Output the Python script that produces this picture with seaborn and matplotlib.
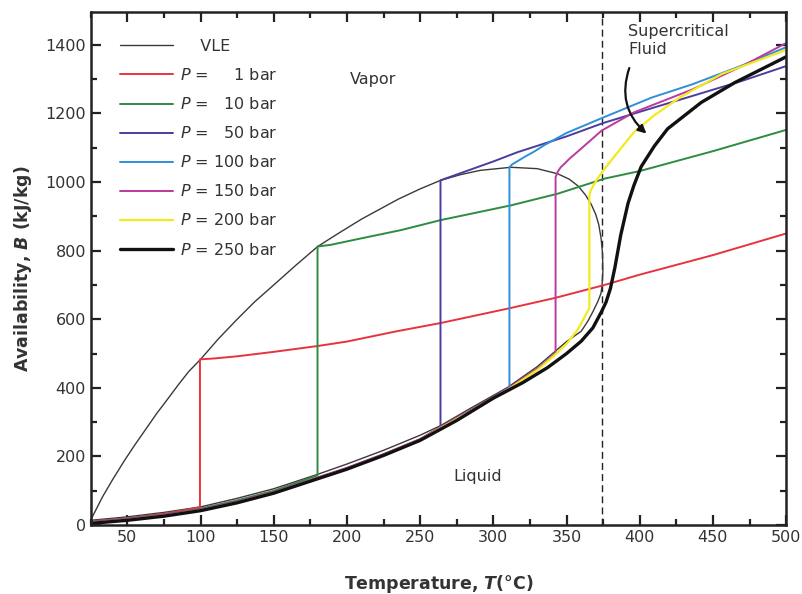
import matplotlib
matplotlib.use("Agg")
import matplotlib.pyplot as plt
import seaborn as sns
import pandas as pd

# ---------------- data ----------------
vle_T = [25, 28, 33, 40, 48, 55, 63, 70, 78, 85, 92, 100, 112, 125, 137, 150, 165, 180, 194, 210,
         235, 250, 264, 278, 291, 312, 330, 344, 352, 358, 363, 367, 370, 372, 373.6, 374.6, 374.8,
         374.3, 373.5, 371.4, 368, 364.5, 360, 350, 341, 330, 310, 285, 264, 250, 225, 200, 180,
         150, 125, 100, 75, 50, 25]
vle_B = [15, 40, 82, 133, 188, 233, 282, 325, 370, 410, 448, 483, 542, 600, 651, 700, 757, 812, 850, 892,
         950, 980, 1005, 1022, 1034, 1043, 1039, 1024, 1008, 988, 962, 934, 905, 876, 836, 790, 740,
         700, 675, 652, 622, 594, 565, 535, 502, 462, 402, 342, 290, 262, 218, 178, 148,
         106, 78, 53, 37, 24, 14]

p1_T = [25, 50, 75, 99.6, 99.6, 110, 125, 150, 180, 200, 234, 264, 312, 342, 376, 400, 450, 500]
p1_B = [11, 20, 33, 52, 483, 486, 492, 505, 522, 535, 565, 589, 633, 662, 700, 730, 787, 850]

p10_T = [25, 50, 75, 100, 125, 150, 179.9, 179.9, 189, 210, 237, 264, 312, 344, 376, 400, 450, 500]
p10_B = [10, 19, 31, 48, 72, 100, 145, 812, 817, 836, 860, 889, 932, 966, 1010, 1032, 1090, 1152]

p50_T = [25, 50, 75, 100, 125, 150, 180, 200, 225, 250, 263.9, 263.9, 277, 300, 316.5, 350, 375,
         408, 436, 470, 500]
p50_B = [8, 17, 29, 45, 68, 96, 138, 166, 206, 250, 285, 1005, 1025, 1060, 1087, 1133, 1172,
         1215, 1251, 1295, 1338]

p100_T = [25, 50, 75, 100, 125, 150, 180, 200, 225, 250, 264, 285, 311, 311, 313, 317, 322, 328,
          335, 350, 375, 408, 436, 470, 500]
p100_B = [7, 16, 28, 44, 67, 95, 137, 165, 205, 249, 285, 336, 400, 1043, 1052, 1062, 1075, 1089,
          1108, 1143, 1188, 1246, 1285, 1340, 1393]

p150_T = [25, 50, 75, 100, 125, 150, 180, 200, 225, 250, 264, 285, 310, 330, 342.5, 342.5, 344,
          346, 348.5, 352, 358, 374, 396, 436, 470, 500]
p150_B = [9, 18, 30, 46, 69, 97, 139, 167, 207, 251, 286, 336, 398, 456, 500, 1014, 1030,
          1043, 1053, 1068, 1090, 1150, 1203, 1270, 1338, 1405]

p200_T = [25, 50, 75, 100, 125, 150, 180, 200, 225, 250, 264, 285, 310, 330, 341, 350, 358, 365.6,
          365.6, 366.5, 369, 372, 376, 385, 396, 410, 428, 456, 500]
p200_B = [6, 15, 27, 43, 66, 94, 136, 164, 204, 248, 283, 333, 395, 452, 492, 528, 572, 633,
          960, 975, 995, 1015, 1039, 1087, 1145, 1195, 1248, 1315, 1385]

p250_T = [25, 50, 75, 100, 125, 150, 180, 200, 225, 250, 275, 300, 320, 337, 350, 360, 368, 374,
          377, 380, 383, 387, 392, 396, 401, 410, 419, 442, 465, 500]
p250_B = [5, 14, 26, 42, 65, 93, 135, 163, 203, 247, 305, 370, 415, 459, 500, 536, 575, 623,
          650, 690, 750, 845, 938, 990, 1045, 1105, 1155, 1232, 1290, 1365]

labels = ["\u2007\u2007VLE", "$P$ = \u2007\u20071 bar", "$P$ = \u200710 bar", "$P$ = \u200750 bar",
          "$P$ = 100 bar", "$P$ = 150 bar", "$P$ = 200 bar", "$P$ = 250 bar"]
colors = ["#3a3a3a", "#e8333f", "#2e8b3f", "#4b3d9e", "#2f8fd8", "#bb3a9e", "#f2ea1c", "#111111"]
widths = [1.0, 1.4, 1.4, 1.4, 1.4, 1.4, 1.6, 2.4]
series = [(vle_T, vle_B), (p1_T, p1_B), (p10_T, p10_B), (p50_T, p50_B), (p100_T, p100_B),
          (p150_T, p150_B), (p200_T, p200_B), (p250_T, p250_B)]

T_crit = 374

# ---------------- style ----------------
sns.set_theme(style="ticks")
plt.rcParams["font.family"] = ["DejaVu Sans"]
plt.rcParams["mathtext.fontset"] = "custom"
plt.rcParams["mathtext.rm"] = "DejaVu Sans"
plt.rcParams["mathtext.it"] = "DejaVu Sans:italic"
plt.rcParams["mathtext.bf"] = "DejaVu Sans:bold:italic"

fig = plt.figure(figsize=(8.03, 5.94), dpi=100)
ax = fig.add_axes([0.113, 0.116, 0.866, 0.864])

for (t, b), lab, c, w in zip(series, labels, colors, widths):
    df = pd.DataFrame({"T": t, "B": b})
    sns.lineplot(data=df, x="T", y="B", sort=False, estimator=None, color=c, lw=w,
                 label=lab, ax=ax)

ax.axvline(T_crit, color="#222222", lw=1.0, ls=(0, (5, 3)), zorder=1)

ax.set_xlim(25, 500)
ax.set_ylim(0, 1496)
ax.set_xticks(range(50, 501, 50))
ax.set_xticks(range(25, 501, 25), minor=True)
ax.set_yticks(range(0, 1401, 200))
ax.set_yticks(range(0, 1496, 100), minor=True)
ax.tick_params(which="both", direction="in", top=True, right=True, width=1.6, colors="#222222",
               labelsize=11.5, labelcolor="#333333")
ax.tick_params(which="major", length=7)
ax.tick_params(which="minor", length=4)
for s in ax.spines.values():
    s.set_linewidth(1.8)
    s.set_color("#222222")

ax.set_xlabel(r"Temperature, $\mathbf{T}$(°C)", fontsize=12.5, fontweight="bold", color="#333333",
              labelpad=20)
ax.set_ylabel(r"Availability, $\mathbf{B}$ (kJ/kg)", fontsize=12.5, fontweight="bold", color="#333333",
              labelpad=8)

ax.text(218, 1300, "Vapor", fontsize=11.5, color="#333333", ha="center", va="center")
ax.text(289, 142, "Liquid", fontsize=11.5, color="#333333", ha="center", va="center")
ax.text(392, 1462, "Supercritical\nFluid", fontsize=11.5, color="#333333", ha="left", va="top",
        linespacing=1.3)
ax.annotate("", xy=(406, 1136), xytext=(393.5, 1340),
            arrowprops=dict(arrowstyle="-|>", color="#111111", lw=1.6,
                            connectionstyle="arc3,rad=0.35", mutation_scale=12))

leg = ax.legend(loc="upper left", bbox_to_anchor=(0.028, 0.966), frameon=False, fontsize=11.5,
                handlelength=3.3, handletextpad=0.5, labelspacing=0.82, borderaxespad=0.2)
for txt in leg.get_texts():
    txt.set_color("#333333")

fig.savefig("out.png", dpi=100)
